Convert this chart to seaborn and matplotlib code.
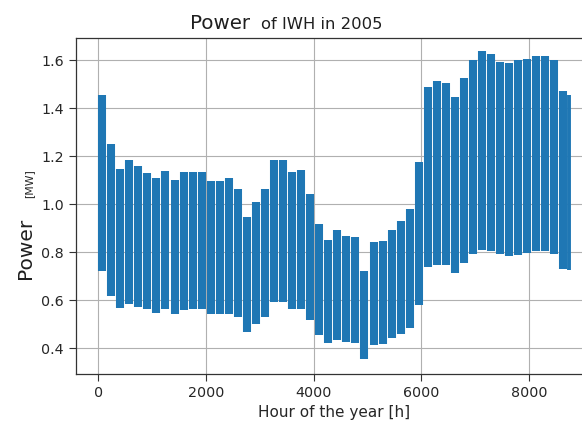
import numpy as np
import pandas as pd
import matplotlib
matplotlib.use("Agg")
import matplotlib.pyplot as plt
import seaborn as sns

# Weekly range of the hourly power of IWH in 2005 (MW)
week_number = list(range(53))
week_max = [1.454, 1.251, 1.146, 1.185, 1.157, 1.130, 1.108, 1.137, 1.100, 1.133,
            1.133, 1.133, 1.096, 1.096, 1.108, 1.061, 0.947, 1.010, 1.062, 1.185,
            1.183, 1.135, 1.144, 1.044, 0.915, 0.850, 0.894, 0.868, 0.861, 0.721,
            0.840, 0.845, 0.894, 0.929, 0.979, 1.174, 1.489, 1.512, 1.503, 1.445,
            1.524, 1.600, 1.636, 1.625, 1.593, 1.586, 1.600, 1.606, 1.619, 1.619,
            1.600, 1.471, 1.454]
week_min = [0.722, 0.618, 0.565, 0.583, 0.572, 0.561, 0.547, 0.561, 0.543, 0.558,
            0.561, 0.561, 0.540, 0.540, 0.544, 0.528, 0.468, 0.500, 0.528, 0.593,
            0.593, 0.561, 0.561, 0.517, 0.454, 0.420, 0.433, 0.426, 0.422, 0.353,
            0.413, 0.417, 0.440, 0.458, 0.482, 0.579, 0.736, 0.746, 0.746, 0.714,
            0.755, 0.792, 0.808, 0.805, 0.792, 0.785, 0.788, 0.795, 0.803, 0.805,
            0.790, 0.730, 0.725]
hours_per_week = 168
hours_in_year = 8760
x_ticks = [0, 2000, 4000, 6000, 8000]
y_ticks = [0.4, 0.6, 0.8, 1.0, 1.2, 1.4, 1.6]
y_tick_labels = ["0.4", "0.6", "0.8", "1.0", "1.2", "1.4", "1.6"]

title_main = "Power"
title_rest = "of IWH in 2005"
ylabel_main = "Power"
ylabel_unit = "[MW]"
xlabel = "Hour of the year [h]"

# long-form table: each week drawn from its min to its max
rows = []
for w, lo, hi in zip(week_number, week_min, week_max):
    start = w * hours_per_week
    end = min(start + hours_per_week, hours_in_year)
    full = (end - start) == hours_per_week
    xpos = start + (72 if full else (end - start) / 2 + 2)
    for v in (lo, hi):
        rows.append({"hour": xpos, "power": v, "week": w, "full": full})
df = pd.DataFrame(rows)

W, H, DPI = 582, 426, 100
fig = plt.figure(figsize=(W / DPI, H / DPI), dpi=DPI)
ax_left, ax_right, ax_top, ax_bottom = 75.7, 592.5, 38.0, 374.0
ax = fig.add_axes([ax_left / W, 1 - ax_bottom / H,
                   (ax_right - ax_left) / W, (ax_bottom - ax_top) / H])

blue = "#1f77b4"
sns.lineplot(data=df[df["full"]], x="hour", y="power", units="week",
             estimator=None, sort=False, color=blue, lw=5.8,
             solid_capstyle="butt", ax=ax, legend=False)
sns.lineplot(data=df[~df["full"]], x="hour", y="power", units="week",
             estimator=None, sort=False, color=blue, lw=2.8,
             solid_capstyle="butt", ax=ax, legend=False)

ax.set_xlim(-420, 9180)
ax.set_ylim(0.292, 1.692)
ax.set_xticks(x_ticks)
ax.set_yticks(y_ticks)
ax.set_yticklabels(y_tick_labels)
ax.tick_params(labelsize=10.3, length=4.9, width=0.8, color="#333333",
               labelcolor="#262626")
ax.grid(True, color="#b0b0b0", lw=0.8)
ax.set_axisbelow(True)
for s in ax.spines.values():
    s.set_color("#333333")
    s.set_linewidth(0.9)
ax.spines["right"].set_visible(False)

ax.set_xlabel(xlabel, fontsize=11, color="#262626")
ax.xaxis.set_label_coords(0.5, -0.093)
ax.set_ylabel(ylabel_main, fontsize=14.5, color="#1f1f1f")
ax.yaxis.set_label_coords((35.4 - ax_left) / (ax_right - ax_left),
                          (ax_bottom - 248.3) / (ax_bottom - ax_top))
fig.text(33.8 / W, 1 - 198 / H, ylabel_unit, rotation=90, ha="right",
         va="bottom", fontsize=7.8, color="#262626")

fig.text(190.0 / W, 1 - 29.3 / H, title_main, ha="left", va="baseline",
         fontsize=14.3, color="#1f1f1f")
fig.text(261.0 / W, 1 - 29.3 / H, title_rest, ha="left", va="baseline",
         fontsize=11.8, color="#1f1f1f")

fig.savefig("out.png", dpi=DPI)
